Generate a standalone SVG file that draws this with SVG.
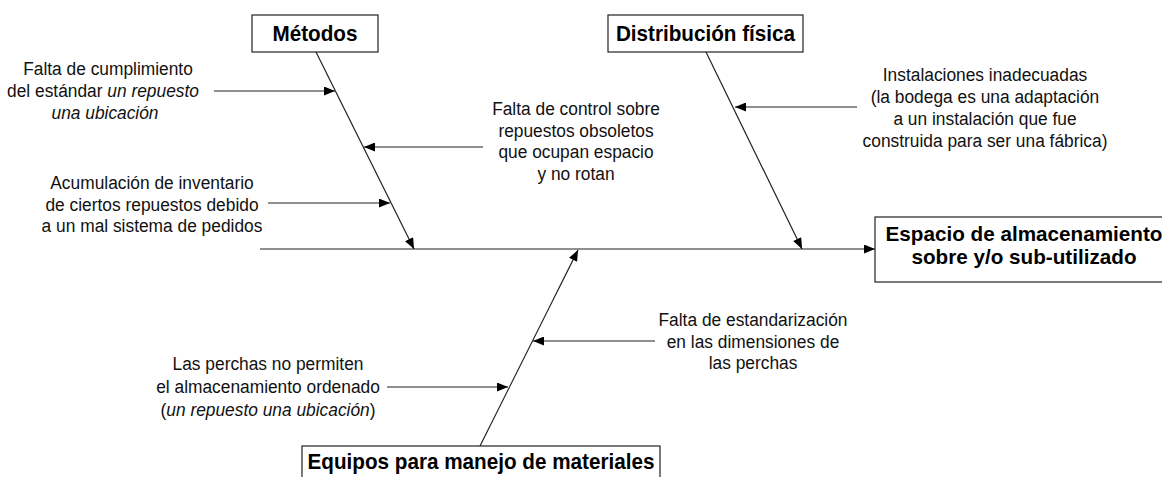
<svg xmlns="http://www.w3.org/2000/svg" width="1162" height="477" viewBox="0 0 1162 477">
<style>
  .t { font-family: "Liberation Sans", Arial, sans-serif; font-size: 19px; fill: #111; text-anchor: middle; }
  .b { font-family: "Liberation Sans", Arial, sans-serif; font-size: 22px; font-weight: bold; fill: #000; text-anchor: middle; }
  .bs { font-size: 21px; }
  .i { font-style: italic; }
  .box { fill: #fff; stroke: #222; stroke-width: 1.2; }
  .ln { stroke: #222; stroke-width: 1.2; fill: none; marker-end: url(#ah); }
</style>
<defs>
  <marker id="ah" markerUnits="userSpaceOnUse" markerWidth="11" markerHeight="9" refX="11" refY="4.5" orient="auto">
    <path d="M0,0 L11,4.5 L0,9 z" fill="#000"/>
  </marker>
</defs>
<rect width="1162" height="477" fill="#fff"/>

<g id="connectors">
  <line class="ln" x1="260" y1="249" x2="875" y2="249"/>
  <line class="ln" x1="316" y1="52" x2="414" y2="249"/>
  <line class="ln" x1="706" y1="52" x2="802" y2="249"/>
  <line class="ln" x1="480" y1="446" x2="578" y2="250"/>
  <line class="ln" x1="214" y1="91" x2="335" y2="91"/>
  <line class="ln" x1="483" y1="147" x2="364" y2="147"/>
  <line class="ln" x1="268" y1="203" x2="390" y2="203"/>
  <line class="ln" x1="857" y1="107" x2="735" y2="107"/>
  <line class="ln" x1="655" y1="341" x2="533" y2="341"/>
  <line class="ln" x1="387" y1="387" x2="508" y2="387"/>
</g>

<g id="metodos">
  <rect class="box" x="252" y="15" width="126" height="37"/>
  <text class="b" transform="translate(315 41) scale(0.94 1)">Métodos</text>
</g>

<g id="distribucion">
  <rect class="box" x="608" y="15" width="195" height="37"/>
  <text class="b" transform="translate(705.5 41) scale(0.94 1)">Distribución física</text>
</g>

<g id="efecto">
  <rect class="box" x="875" y="217" width="300" height="65"/>
  <text class="b bs" transform="translate(1024 241) scale(0.985 1)">Espacio de almacenamiento</text>
  <text class="b bs" transform="translate(1024 264) scale(0.985 1)">sobre y/o sub-utilizado</text>
</g>

<g id="equipos">
  <rect class="box" x="302" y="446" width="358" height="40"/>
  <text class="b" transform="translate(481 469) scale(0.94 1)">Equipos para manejo de materiales</text>
</g>

<g id="causa-cumplimiento">
  <text class="t" transform="translate(108 75) scale(0.913 1)">Falta de cumplimiento</text>
  <text class="t" transform="translate(103 97) scale(0.913 1)">del estándar <tspan class="i">un repuesto</tspan></text>
  <text class="t i" transform="translate(105 119) scale(0.913 1)">una ubicación</text>
</g>

<g id="causa-control">
  <text class="t" transform="translate(576 115) scale(0.913 1)">Falta de control sobre</text>
  <text class="t" transform="translate(576 137) scale(0.913 1)">repuestos obsoletos</text>
  <text class="t" transform="translate(576 158) scale(0.913 1)">que ocupan espacio</text>
  <text class="t" transform="translate(576 180) scale(0.913 1)">y no rotan</text>
</g>

<g id="causa-acumulacion">
  <text class="t" transform="translate(152 189) scale(0.913 1)">Acumulación de inventario</text>
  <text class="t" transform="translate(152 211) scale(0.913 1)">de ciertos repuestos debido</text>
  <text class="t" transform="translate(152 232) scale(0.913 1)">a un mal sistema de pedidos</text>
</g>

<g id="causa-instalaciones">
  <text class="t" transform="translate(985 81) scale(0.913 1)">Instalaciones inadecuadas</text>
  <text class="t" transform="translate(985 103) scale(0.913 1)">(la bodega es una adaptación</text>
  <text class="t" transform="translate(985 125) scale(0.913 1)">a un instalación que fue</text>
  <text class="t" transform="translate(985 147) scale(0.913 1)">construida para ser una fábrica)</text>
</g>

<g id="causa-estandarizacion">
  <text class="t" transform="translate(753 326) scale(0.913 1)">Falta de estandarización</text>
  <text class="t" transform="translate(753 348) scale(0.913 1)">en las dimensiones de</text>
  <text class="t" transform="translate(753 369) scale(0.913 1)">las perchas</text>
</g>

<g id="causa-perchas">
  <text class="t" transform="translate(268 370) scale(0.913 1)">Las perchas no permiten</text>
  <text class="t" transform="translate(268 393) scale(0.913 1)">el almacenamiento ordenado</text>
  <text class="t" transform="translate(268 416) scale(0.913 1)">(<tspan class="i">un repuesto una ubicación</tspan>)</text>
</g>
</svg>
